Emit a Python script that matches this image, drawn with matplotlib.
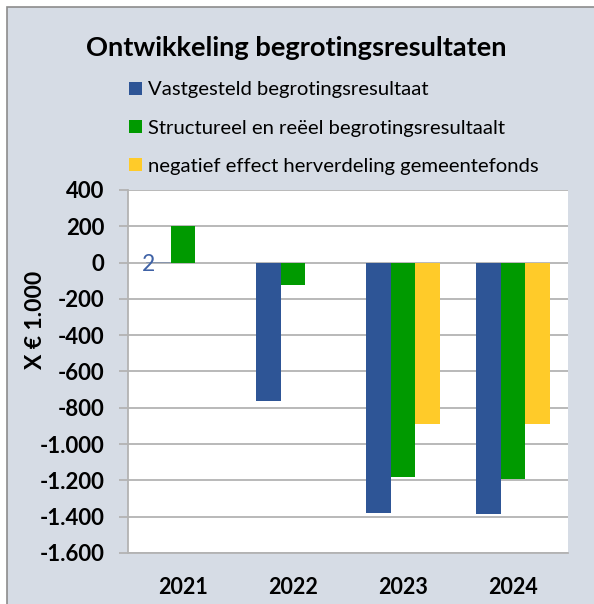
import matplotlib
matplotlib.use("Agg")
import matplotlib.pyplot as plt
from matplotlib.patches import Rectangle
from matplotlib.ticker import FuncFormatter
import numpy as np

plt.rcParams['font.family'] = ['Lato', 'DejaVu Sans']

years = ["2021", "2022", "2023", "2024"]
series_names = ["Vastgesteld begrotingsresultaat",
                "Structureel en reëel begrotingsresultaalt",
                "negatief effect herverdeling gemeentefonds"]
vastgesteld = [2, -765, -1380, -1387]
structureel = [200, -122, -1183, -1190]
negatief = [np.nan, np.nan, -890, -890]
colors = ["#2E5596", "#009A00", "#FFCB29"]
yticks = list(range(-1600, 401, 200))

W, H = 594, 604
fig = plt.figure(figsize=(W / 100, H / 100), dpi=100)
fig.patch.set_facecolor("white")
bg = Rectangle((7 / W, -0.1), 1.2, 1 - 7 / H + 0.1, transform=fig.transFigure,
               facecolor="#D6DCE5", edgecolor="#8C8C8C", linewidth=1.2, zorder=-10)
fig.patches.append(bg)

ax = fig.add_axes([128 / W, 1 - 553 / H, 440 / W, 363 / H])
ax.set_zorder(5)
ax.set_facecolor("white")
x = np.arange(len(years))
w = 0.223
all_series = [vastgesteld, structureel, negatief]
handles = []
for i, (vals, c) in enumerate(zip(all_series, colors)):
    b = ax.bar(x + (i - 1) * w, vals, width=w, color=c, zorder=3, label=series_names[i])
    for p in b.patches:
        if abs(p.get_height()) < 5:
            p.set_snap(False)
    handles.append(b)

ax.text(x[0] - 0.31, vastgesteld[0] - 12, str(vastgesteld[0]), color="#3F62A6",
        fontsize=16.5, ha="center", va="center", zorder=4)

ax.set_xlim(-0.5, len(years) - 0.5)
ax.set_ylim(-1600, 400)
ax.set_yticks(yticks)
ax.yaxis.set_major_formatter(FuncFormatter(lambda v, p: f"{int(v):,}".replace(",", ".")))
ax.set_xticks(x)
ax.set_xticklabels(years)
ax.grid(axis="y", color="#B3B3B3", linewidth=1.3, zorder=0)
ax.set_axisbelow(True)
for s in ["top", "right"]:
    ax.spines[s].set_visible(False)
for s in ["left", "bottom"]:
    ax.spines[s].set_color("#B3B3B3")
    ax.spines[s].set_linewidth(1.3)
ax.tick_params(axis="y", length=6.5, width=1.3, color="#B3B3B3", pad=10.5, labelsize=16)
ax.tick_params(axis="x", length=0, pad=17, labelsize=15.5)
for lab in ax.get_yticklabels() + ax.get_xticklabels():
    lab.set_fontweight("bold")

fig.text(35.5 / W, 1 - 320 / H, "X € 1.000", rotation=90, fontsize=16.5, fontweight="bold",
         ha="center", va="center")
fig.text(296 / W, 1 - 48 / H, "Ontwikkeling begrotingsresultaten", fontsize=19.6,
         fontweight="bold", ha="center", va="center")

leg = fig.legend(handles=handles, labels=series_names, loc="center left",
                 bbox_to_anchor=(129 / W, 1 - 128 / H), frameon=False, fontsize=14.6,
                 handlelength=0.65, handleheight=0.65, handletextpad=0.3,
                 labelspacing=1.04, borderaxespad=0, borderpad=0)

fig.savefig("out.png", dpi=100, facecolor=fig.get_facecolor())
